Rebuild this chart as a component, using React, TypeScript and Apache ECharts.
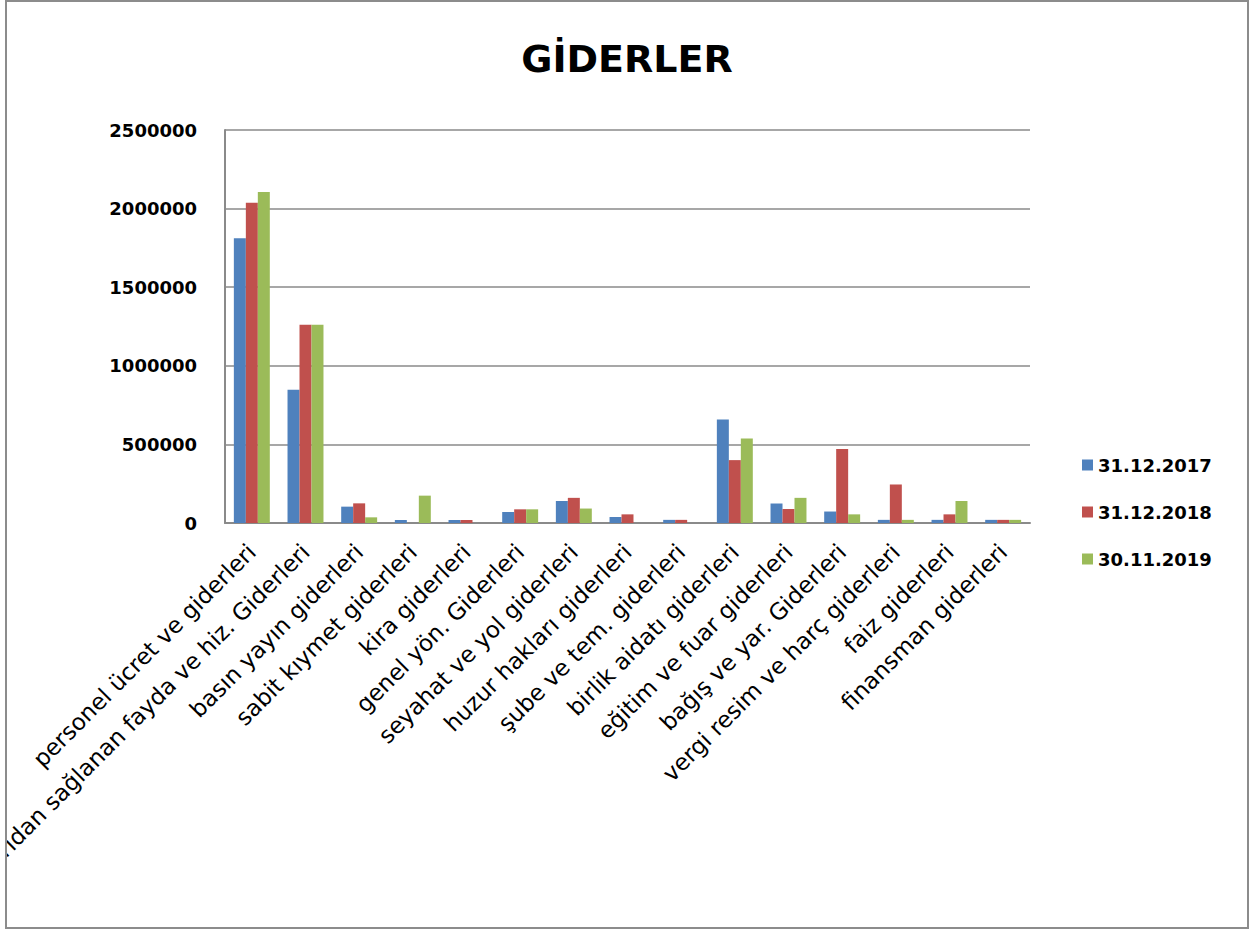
import React, { useEffect, useRef } from "react";
import * as echarts from "echarts";

const categories = [
  "personel ücret ve giderleri",
  "dışarıdan sağlanan fayda ve hiz. Giderleri",
  "basın yayın giderleri",
  "sabit kıymet giderleri",
  "kira giderleri",
  "genel yön. Giderleri",
  "seyahat ve yol giderleri",
  "huzur hakları giderleri",
  "şube ve tem. giderleri",
  "birlik aidatı giderleri",
  "eğitim ve fuar giderleri",
  "bağış ve yar. Giderleri",
  "vergi resim ve harç giderleri",
  "faiz giderleri",
  "finansman giderleri",
];

const seriesNames = ["31.12.2017", "31.12.2018", "30.11.2019"];

const values2017 = [1812000, 847000, 104000, 19000, 19000, 70000, 140000, 38000, 20000, 659000, 124000, 73000, 20000, 20000, 20000];
const values2018 = [2038000, 1261000, 125000, 0, 19000, 87000, 160000, 55000, 20000, 400000, 89000, 470000, 245000, 55000, 20000];
const values2019 = [2106000, 1261000, 36000, 174000, 0, 87000, 92000, 0, 0, 538000, 160000, 55000, 20000, 140000, 20000];

const yMin = 0;
const yMax = 2500000;
const yInterval = 500000;

const colors = ["#4F81BD", "#C0504D", "#9BBB59"];
const FONT = "DejaVu Sans";

export default function App() {
  const ref = useRef<HTMLDivElement>(null);

  useEffect(() => {
    if (!ref.current) return;
    const chart = echarts.init(ref.current, undefined, { renderer: "svg" });
    const data = [values2017, values2018, values2019];
    chart.setOption({
      animation: false,
      backgroundColor: "#ffffff",
      color: colors,
      title: {
        text: "GİDERLER",
        left: "center",
        top: 33,
        textStyle: { fontFamily: FONT, fontSize: 38, fontWeight: "bold", color: "#000" },
      },
      legend: {
        orient: "vertical",
        left: 1070,
        top: 449,
        itemWidth: 11,
        itemHeight: 11,
        itemGap: 29,
        icon: "rect",
        textStyle: { fontFamily: FONT, fontSize: 18, fontWeight: "bold", color: "#000" },
        data: seriesNames,
      },
      grid: {
        left: 218,
        top: 128,
        width: 805,
        height: 393,
        containLabel: false,
        outerBoundsMode: "none",
      },
      xAxis: {
        type: "category",
        data: categories,
        axisLine: { lineStyle: { color: "#8a8a8a", width: 2 } },
        axisTick: { show: false },
        axisLabel: {
          interval: 0,
          rotate: 45,
          margin: 25,
          fontFamily: FONT,
          fontSize: 23,
          color: "#000",
        },
      },
      yAxis: {
        type: "value",
        min: yMin,
        max: yMax,
        interval: yInterval,
        axisLine: { show: true, lineStyle: { color: "#8a8a8a", width: 2 } },
        axisTick: { show: false },
        splitLine: { lineStyle: { color: "#8a8a8a", width: 1.5 } },
        axisLabel: {
          margin: 28,
          fontFamily: FONT,
          fontSize: 18,
          fontWeight: "bold",
          color: "#000",
          formatter: (v: number) => String(v),
        },
      },
      series: seriesNames.map((name, i) => ({
        name,
        type: "bar",
        data: data[i],
        barGap: "0%",
        barCategoryGap: "33%",
        itemStyle: { color: colors[i] },
      })),
    });
    return () => chart.dispose();
  }, []);

  return (
    <div style={{ position: "absolute", left: 0, top: 0, width: 1249, height: 929, background: "#fff" }}>
      <div
        style={{
          position: "absolute",
          left: 5,
          top: 0,
          width: 1244,
          height: 929,
          border: "2px solid #8c8c8c",
          boxSizing: "border-box",
          overflow: "hidden",
        }}
      >
        <div ref={ref} style={{ width: 1240, height: 925 }} />
      </div>
    </div>
  );
}
